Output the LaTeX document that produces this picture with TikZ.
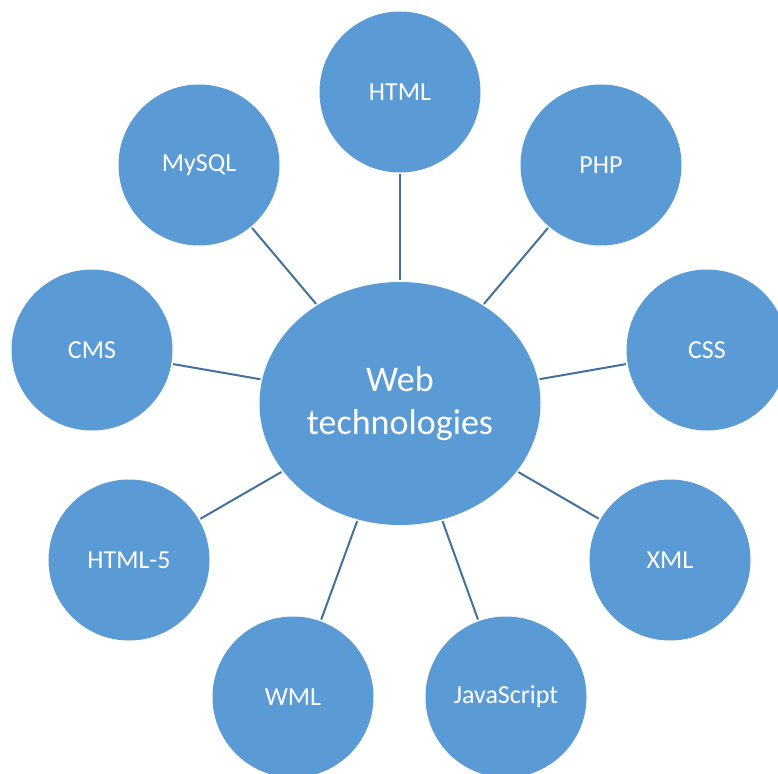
\documentclass[tikz,border=0pt]{standalone}
\usepackage{fontspec}
\setmainfont{Carlito}
\usepackage{tikz}
\usetikzlibrary{shapes.geometric}

\definecolor{techfill}{HTML}{5B9BD5}
\definecolor{techline}{HTML}{41719C}

\tikzset{
    tech/.style={circle, fill=techfill, text=white, minimum size=120.75pt, inner sep=0pt, font=\fontsize{19.5}{23}\selectfont},
    hub/.style={ellipse, fill=techfill, text=white, minimum width=210.75pt, minimum height=182.25pt, inner sep=0pt, align=center, font=\fontsize{27}{32.5}\selectfont},
    link/.style={draw=techline, line width=1.5pt, shorten <=1.2pt, shorten >=1.2pt}
}

\begin{document}
\begin{tikzpicture}[x=0.75pt, y=-0.75pt]
    \useasboundingbox (0,0) rectangle (778,774);
    \clip (0,0) rectangle (778,774);

    \node (web) [hub] at (400,403.5) {Web\\technologies};

    \node (html) [tech] at (400,92) {HTML};
    \node (php) [tech] at (601,165) {PHP};
    \node (css) [tech] at (707,350) {CSS};
    \node (xml) [tech] at (670,560) {XML};
    \node (js) [tech] at (506,697) {JavaScript};
    \node (wml) [tech] at (293,697) {WML};
    \node (htmlfive) [tech] at (129,560) {HTML-5};
    \node (cms) [tech] at (92,350) {CMS};
    \node (mysql) [tech] at (199,165) {MySQL};

    \foreach \t in {html, php, css, xml, js, wml, htmlfive, cms, mysql}
        \draw[link] (web) -- (\t);
\end{tikzpicture}
\end{document}
